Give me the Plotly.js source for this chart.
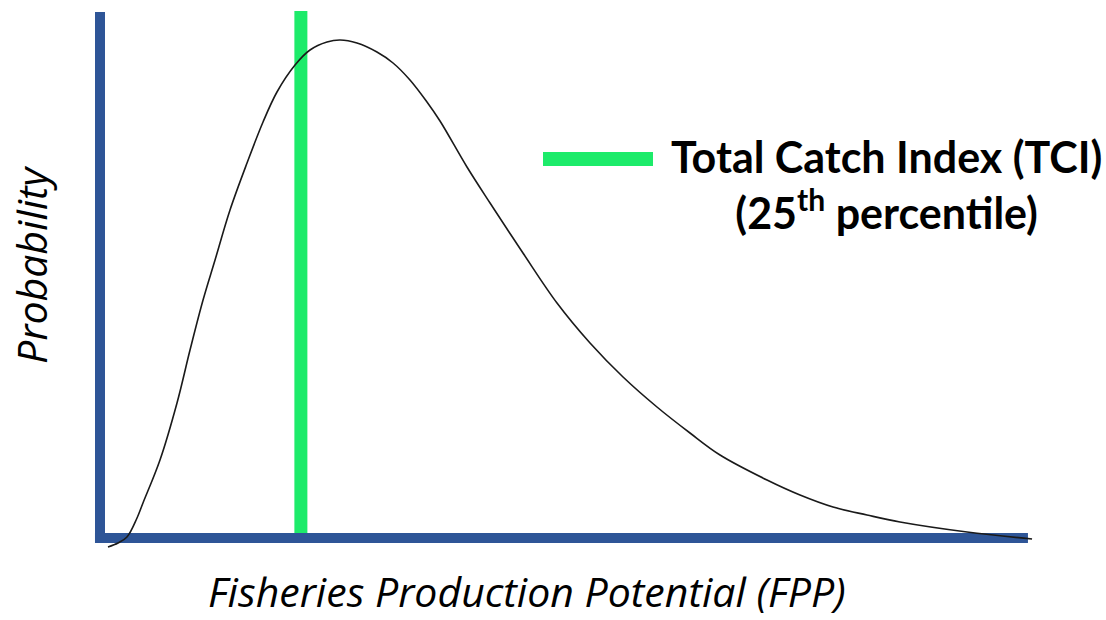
<!DOCTYPE html>
<html>
<head>
<meta charset="utf-8">
<script src="https://cdn.plot.ly/plotly-3.0.1.min.js"></script>
<style>html,body{margin:0;padding:0;background:#fff;}#chart{width:1106px;height:620px;}</style>
</head>
<body>
<div id="chart"></div>
<script>
// Fisheries Production Potential (arbitrary units) and relative probability density
const fppX = [0.86, 1.94, 2.90, 3.98, 4.62, 6.45, 8.28, 9.68, 11.08, 12.37, 13.98, 15.81, 17.53, 19.03, 20.97, 22.58, 24.41, 25.81, 27.63, 29.78, 31.51, 33.33, 35.16, 36.56, 39.46, 41.94, 45.48, 49.14, 52.69, 56.24, 59.89, 63.44, 66.67, 71.72, 75.27, 78.82, 82.47, 86.02, 93.23, 100.22];
const probY = [-0.018, -0.010, 0.002, 0.040, 0.070, 0.156, 0.270, 0.376, 0.476, 0.556, 0.656, 0.750, 0.832, 0.892, 0.946, 0.976, 0.992, 0.996, 0.990, 0.972, 0.950, 0.916, 0.872, 0.834, 0.742, 0.670, 0.570, 0.470, 0.390, 0.322, 0.262, 0.210, 0.166, 0.116, 0.086, 0.062, 0.046, 0.032, 0.012, -0.002];

// Total Catch Index (25th percentile) position and line extent
const tciX = 21.6;
const tciTop = 1.054;

// axes extents
const axisXExtent = [-0.54, 99.78];
const axisYExtent = [-0.01, 1.052];

const legendText = '<b>Total Catch Index (TCI)</b><br><b>(25<sup>th</sup> percentile)</b>';
const xTitle = 'Fisheries Production Potential (FPP)';
const yTitle = 'Probability';

const BLUE = '#2E5597';
const GREEN = '#1DEB6A';

// plot area in pixels
const L = 90, R = 1060, T = 5, B = 560;
const W = R - L, H = B - T;
const px = v => (v - L) / W;
const py = v => (B - v) / H;

const traces = [
  {x: [tciX, tciX], y: [0, tciTop], mode: 'lines', line: {color: GREEN, width: 13}, hoverinfo: 'skip', showlegend: false},
  {x: axisXExtent, y: [0, 0], mode: 'lines', line: {color: BLUE, width: 10}, hoverinfo: 'skip', showlegend: false},
  {x: [0, 0], y: axisYExtent, mode: 'lines', line: {color: BLUE, width: 10}, hoverinfo: 'skip', showlegend: false},
  {x: fppX, y: probY, mode: 'lines', line: {color: '#1a1a1a', width: 1.6, shape: 'spline', smoothing: 1}, hoverinfo: 'skip', showlegend: false}
];

const titleFont = {family: 'Open Sans', size: 41, color: '#000', style: 'italic'};

const layout = {
  width: 1106, height: 620,
  margin: {l: L, r: 1106 - R, t: T, b: 620 - B, pad: 0},
  paper_bgcolor: '#fff', plot_bgcolor: '#fff',
  showlegend: false,
  xaxis: {
    range: [-10 / 9.3, 960 / 9.3], showgrid: false, zeroline: false, showticklabels: false, ticks: '', showline: false
  },
  yaxis: {
    range: [(538 - 560) / 500, (538 - 5) / 500], showgrid: false, zeroline: false, showticklabels: false, ticks: '', showline: false
  },
  shapes: [
    {type: 'line', xref: 'paper', yref: 'paper', x0: px(543), x1: px(653), y0: py(159), y1: py(159), line: {color: GREEN, width: 14}, layer: 'above'}
  ],
  annotations: [
    {xref: 'paper', yref: 'paper', x: px(886), y: py(184), xanchor: 'center', yanchor: 'middle', showarrow: false, align: 'center',
     text: legendText, font: {family: 'Lato', size: 43, color: '#000'}},
    {xref: 'paper', yref: 'paper', x: px(527), y: py(591), xanchor: 'center', yanchor: 'middle', showarrow: false,
     text: xTitle, font: titleFont},
    {xref: 'paper', yref: 'paper', x: px(31), y: py(265), xanchor: 'center', yanchor: 'middle', showarrow: false, textangle: -90,
     text: yTitle, font: titleFont}
  ]
};

Plotly.newPlot('chart', traces, layout, {staticPlot: true, displayModeBar: false});
</script>
</body>
</html>
